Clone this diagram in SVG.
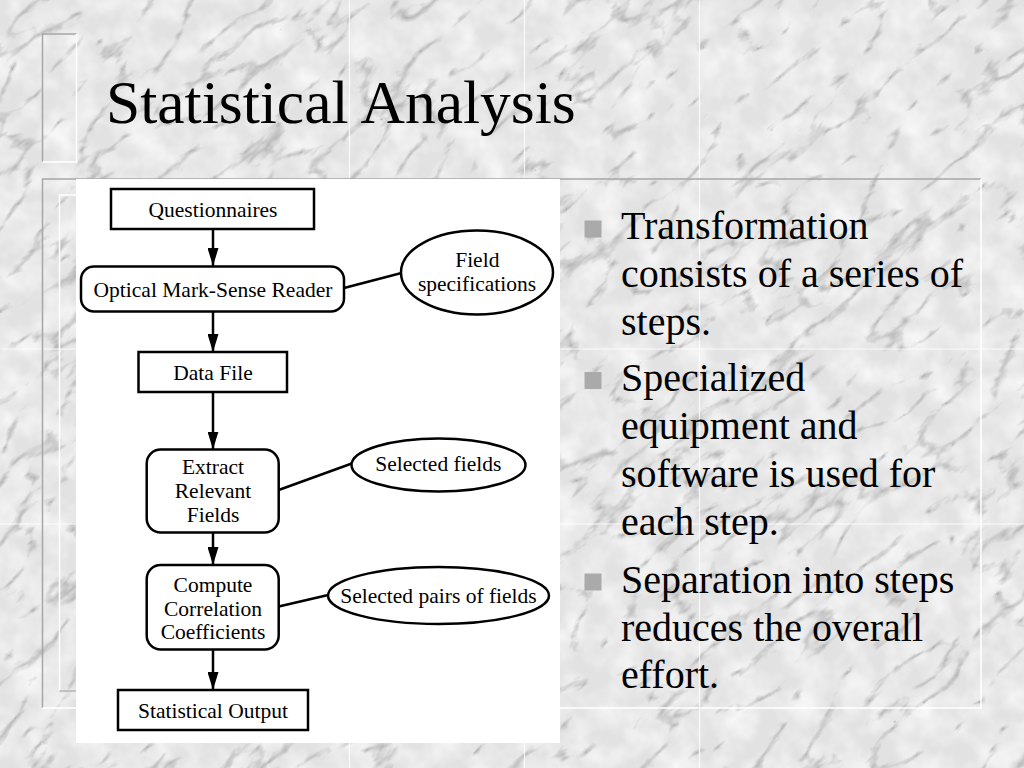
<svg xmlns="http://www.w3.org/2000/svg" width="1024" height="768" viewBox="0 0 1024 768">
  <defs>
    <filter id="marble" color-interpolation-filters="sRGB">
      <feTurbulence type="turbulence" baseFrequency="0.012 0.028" numOctaves="4" seed="11" result="noise"/>
      <feColorMatrix in="noise" type="matrix" values="0 0 0 0 0.62  0 0 0 0 0.62  0 0 0 0 0.62  -3.6 0 0 0 0.72" result="veins"/>
      <feFlood flood-color="#e2e2e2" result="base"/>
      <feTurbulence type="fractalNoise" baseFrequency="0.035" numOctaves="3" seed="4" result="n2"/>
      <feColorMatrix in="n2" type="matrix" values="0 0 0 0 0.97  0 0 0 0 0.97  0 0 0 0 0.97  0 0 0 1.8 -0.6" result="cloud"/>
      <feComposite in="cloud" in2="base" operator="over" result="m1"/>
      <feComposite in="veins" in2="m1" operator="over"/>
    </filter>
    <marker id="arrow" viewBox="0 0 18 11" refX="18" refY="5.5" markerWidth="18" markerHeight="11" orient="auto" markerUnits="userSpaceOnUse">
      <path d="M0,0 L18,5.5 L0,11 z" fill="#000"/>
    </marker>
    <style>
      .node { fill: #fff; stroke: #000; stroke-width: 2.5; }
      .lbl { font-family: "Liberation Serif", "Times New Roman", serif; font-size: 21.5px; fill: #000; text-anchor: middle; }
      .edge { stroke: #000; stroke-width: 2.5; fill: none; }
      .title { font-family: "Liberation Serif", "Times New Roman", serif; font-size: 61.5px; fill: #000; }
      .bul { font-family: "Liberation Serif", "Times New Roman", serif; font-size: 40px; fill: #000; }
      .sq { fill: #aaaaaa; }
      .seam { stroke: #ffffff; stroke-width: 1.2; opacity: 0.8; }
    </style>
  </defs>

  <!-- marble background -->
  <g id="background">
    <rect x="0" y="0" width="1024" height="768" fill="#e2e2e2"/>
    <g transform="rotate(-40 512 384)">
      <rect x="-400" y="-400" width="1824" height="1568" fill="#e2e2e2" filter="url(#marble)"/>
    </g>
    <line class="seam" x1="349.5" y1="0" x2="349.5" y2="768"/>
    <line class="seam" x1="524.5" y1="0" x2="524.5" y2="768"/>
    <line class="seam" x1="699.5" y1="0" x2="699.5" y2="768"/>
    <line class="seam" x1="0" y1="349" x2="1024" y2="349"/>
    <line class="seam" x1="0" y1="524" x2="1024" y2="524"/>
  </g>

  <!-- bevel frames -->
  <g id="frames" fill="none" stroke-width="1.5">
    <polyline points="42.5,162 42.5,34 76.5,34" stroke="#a6a6a6"/>
    <polyline points="76.5,34 76.5,162 42.5,162" stroke="#ffffff"/>
    <polyline points="42.5,708 42.5,179 981,179" stroke="#a6a6a6"/>
    <polyline points="981,179 981,708 42.5,708" stroke="#ffffff"/>
    <polyline points="59.5,691 59.5,195 120,195" stroke="#ffffff"/>
    <polyline points="59.5,691 120,691" stroke="#b4b4b4"/>
  </g>

  <!-- title -->
  <text id="title" class="title" x="106" y="123">Statistical Analysis</text>

  <!-- white diagram panel -->
  <rect id="panel" x="76" y="179" width="484" height="564" fill="#ffffff"/>

  <!-- connectors -->
  <g id="connectors">
    <line class="edge" x1="213" y1="229" x2="213" y2="266" marker-end="url(#arrow)"/>
    <line class="edge" x1="213" y1="311.5" x2="213" y2="352" marker-end="url(#arrow)"/>
    <line class="edge" x1="213" y1="392.5" x2="213" y2="449.5" marker-end="url(#arrow)"/>
    <line class="edge" x1="213" y1="532.5" x2="213" y2="565" marker-end="url(#arrow)"/>
    <line class="edge" x1="213" y1="649.5" x2="213" y2="690" marker-end="url(#arrow)"/>
    <line class="edge" x1="344" y1="288" x2="401.5" y2="273"/>
    <line class="edge" x1="278.7" y1="490" x2="351.8" y2="463.5"/>
    <line class="edge" x1="278.7" y1="606.5" x2="328.2" y2="595"/>
  </g>

  <!-- nodes -->
  <g id="node-questionnaires">
    <rect class="node" x="111" y="189" width="203" height="40"/>
    <text class="lbl" x="213" y="217">Questionnaires</text>
  </g>
  <g id="node-reader">
    <rect class="node" x="81" y="266.5" width="263" height="45" rx="13"/>
    <text class="lbl" x="213" y="297">Optical Mark-Sense Reader</text>
  </g>
  <g id="node-fieldspec">
    <ellipse class="node" cx="477" cy="272.5" rx="76" ry="42"/>
    <text class="lbl" x="477.3" y="267">Field</text>
    <text class="lbl" x="477" y="291">specifications</text>
  </g>
  <g id="node-datafile">
    <rect class="node" x="138.5" y="352" width="148.5" height="40"/>
    <text class="lbl" x="213" y="380">Data File</text>
  </g>
  <g id="node-extract">
    <rect class="node" x="146.7" y="449.5" width="132" height="83" rx="14"/>
    <text class="lbl" x="213" y="474">Extract</text>
    <text class="lbl" x="213" y="498">Relevant</text>
    <text class="lbl" x="213" y="522">Fields</text>
  </g>
  <g id="node-selfields">
    <ellipse class="node" cx="438.5" cy="465" rx="87" ry="26.5"/>
    <text class="lbl" x="438.3" y="471">Selected fields</text>
  </g>
  <g id="node-compute">
    <rect class="node" x="146.7" y="565" width="132" height="84.5" rx="14"/>
    <text class="lbl" x="213" y="592">Compute</text>
    <text class="lbl" x="213" y="615.5">Correlation</text>
    <text class="lbl" x="213" y="639">Coefficients</text>
  </g>
  <g id="node-selpairs">
    <ellipse class="node" cx="438.5" cy="595.5" rx="110.5" ry="28.5"/>
    <text class="lbl" x="438.5" y="603">Selected pairs of fields</text>
  </g>
  <g id="node-output">
    <rect class="node" x="118" y="690" width="190" height="40"/>
    <text class="lbl" x="213" y="718">Statistical Output</text>
  </g>

  <!-- bullet list -->
  <g id="bullets">
    <rect class="sq" x="584.5" y="220.5" width="17" height="17"/>
    <text class="bul" x="621" y="239">Transformation</text>
    <text class="bul" x="621" y="287">consists of a series of</text>
    <text class="bul" x="621" y="335">steps.</text>
    <rect class="sq" x="584.5" y="372" width="17" height="17"/>
    <text class="bul" x="621" y="391">Specialized</text>
    <text class="bul" x="621" y="439">equipment and</text>
    <text class="bul" x="621" y="487">software is used for</text>
    <text class="bul" x="621" y="535">each step.</text>
    <rect class="sq" x="584.5" y="573.5" width="17" height="17"/>
    <text class="bul" x="621" y="592.5">Separation into steps</text>
    <text class="bul" x="621" y="640.5">reduces the overall</text>
    <text class="bul" x="621" y="688">effort.</text>
  </g>
</svg>
